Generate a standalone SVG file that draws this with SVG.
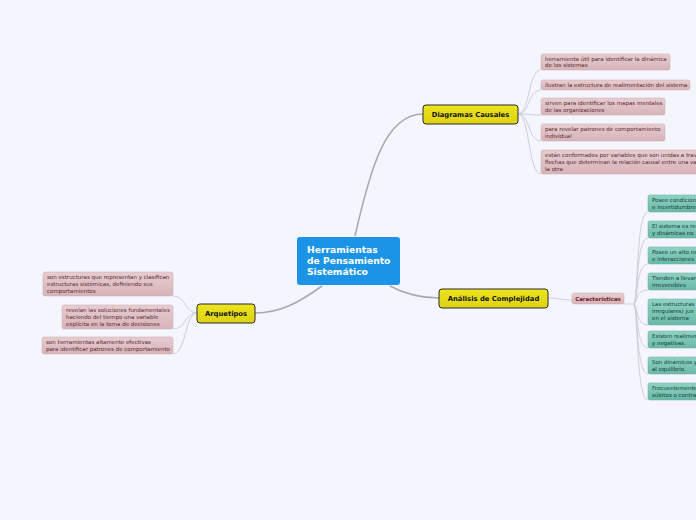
<svg xmlns="http://www.w3.org/2000/svg" width="696" height="520" viewBox="0 0 696 520">
<defs>
<linearGradient id="gy" x1="0" y1="0" x2="0" y2="1"><stop offset="0" stop-color="#ede51f"/><stop offset="1" stop-color="#ddd214"/></linearGradient>
<linearGradient id="gp" x1="0" y1="0" x2="0" y2="1"><stop offset="0" stop-color="#e6cdd1"/><stop offset="1" stop-color="#d7b3b9"/></linearGradient>
<linearGradient id="gt" x1="0" y1="0" x2="0" y2="1"><stop offset="0" stop-color="#8ed3c3"/><stop offset="1" stop-color="#6bb8a8"/></linearGradient>
<style>
.main{stroke:#a9a9b3;stroke-width:1.6;fill:none}
.sub{stroke:#cfcfd8;stroke-width:1;fill:none}
.y{fill:url(#gy);stroke:#2b2b2b;stroke-width:1}
.p{fill:url(#gp);stroke:#cfa9af;stroke-width:0.5}
.t{fill:url(#gt);stroke:#6aa99b;stroke-width:0.5}
.yl{font-family:"DejaVu Sans",Verdana,sans-serif;font-weight:bold;font-size:6.8px;fill:#111;text-anchor:middle}
.pl{font-family:"DejaVu Sans",Verdana,sans-serif;font-size:5.5px;fill:#5a2a30}
.tl{font-family:"DejaVu Sans",Verdana,sans-serif;font-size:5.5px;fill:#133d35}
.cl{font-family:"DejaVu Sans",Verdana,sans-serif;font-weight:bold;font-size:9.2px;fill:#fff}
.kl{font-family:"DejaVu Sans",Verdana,sans-serif;font-weight:bold;font-size:5.4px;fill:#6a1c28;text-anchor:middle}
</style>
</defs>
<rect width="696" height="520" fill="#f4f5fd"/>
<g id="connectors">
<path class="main" d="M355 236 C370 170 385 114 423 114"/>
<path class="main" d="M390 286 C405 294 420 298 439 298"/>
<path class="main" d="M322 286 C300 302 280 313 255 313"/>
<path class="sub" d="M548 298 C560 298 560 300 572 300"/>
<path class="sub" d="M518 114 C530 114 528 70 541 70"/>
<path class="sub" d="M518 114 C530 114 528 90 541 90"/>
<path class="sub" d="M518 114 C530 114 528 115 541 115"/>
<path class="sub" d="M518 114 C530 114 528 141 541 141"/>
<path class="sub" d="M518 114 C530 114 528 174 541 174"/>
<path class="sub" d="M624 304 L634 304"/>
<path class="sub" d="M634 304 C638 300 636 212 648 212"/>
<path class="sub" d="M634 304 C638 300 636 238 648 238"/>
<path class="sub" d="M634 304 C638 300 636 264 648 264"/>
<path class="sub" d="M634 304 C638 300 636 290 648 290"/>
<path class="sub" d="M634 304 C638 308 636 325 648 325"/>
<path class="sub" d="M634 304 C638 308 636 348 648 348"/>
<path class="sub" d="M634 304 C638 308 636 374 648 374"/>
<path class="sub" d="M634 304 C638 308 636 400 648 400"/>
<path class="sub" d="M197 313 C185 313 186 296 173 296"/>
<path class="sub" d="M197 313 C185 313 186 329 173 329"/>
<path class="sub" d="M197 313 C185 313 186 354 173 354"/>
</g>
<g id="center">
<rect x="297" y="237" width="103" height="48" rx="3" fill="#1b94e7"/>
<text class="cl" x="307" y="253">Herramientas</text>
<text class="cl" x="307" y="264">de Pensamiento</text>
<text class="cl" x="307" y="275">Sistemático</text>
</g>
<g id="diagramas">
<rect class="y" x="423" y="105" width="95" height="19" rx="3"/>
<text class="yl" x="470.5" y="117">Diagramas Causales</text>
</g>
<g id="analisis">
<rect class="y" x="439" y="289" width="109" height="19" rx="3"/>
<text class="yl" x="493.5" y="301">Análisis de Complejidad</text>
</g>
<g id="arquetipos">
<rect class="y" x="197" y="304" width="58" height="19" rx="3"/>
<text class="yl" x="226" y="316">Arquetipos</text>
</g>
<g id="caracteristicas">
<rect class="p" x="572" y="293" width="52" height="11" rx="2"/>
<text class="kl" x="598" y="300.5">Características</text>
</g>
<g id="dc1"><rect class="p" x="541" y="54" width="129" height="16" rx="2"/><text class="pl" x="545" y="61">herramienta útil para identificar la dinámica</text><text class="pl" x="545" y="67">de los sistemas</text></g>
<g id="dc2"><rect class="p" x="541" y="80" width="149" height="10" rx="2"/><text class="pl" x="545" y="87">ilustran la estructura de realimentación del sistema</text></g>
<g id="dc3"><rect class="p" x="541" y="98" width="124" height="17" rx="2"/><text class="pl" x="545" y="105">sirven para identificar los mapas mentales</text><text class="pl" x="545" y="112">de las organizaciones</text></g>
<g id="dc4"><rect class="p" x="541" y="124" width="124" height="17" rx="2"/><text class="pl" x="545" y="131">para revelar patrones de comportamiento</text><text class="pl" x="545" y="138">individual</text></g>
<g id="dc5"><rect class="p" x="541" y="150" width="160" height="24" rx="2"/><text class="pl" x="545" y="157">están conformados por variables que son unidas a trav</text><text class="pl" x="545" y="164">flechas que determinan la relación causal entre una va</text><text class="pl" x="545" y="171">la otra</text></g>
<g id="ca1"><rect class="t" x="648" y="195" width="55" height="17" rx="2"/><text class="tl" x="652" y="202">Posee condicion</text><text class="tl" x="652" y="209">e incertidumbre</text></g>
<g id="ca2"><rect class="t" x="648" y="221" width="55" height="17" rx="2"/><text class="tl" x="652" y="228">El sistema es re</text><text class="tl" x="652" y="235">y dinámicas no</text></g>
<g id="ca3"><rect class="t" x="648" y="247" width="55" height="17" rx="2"/><text class="tl" x="652" y="254">Posee un alto ne</text><text class="tl" x="652" y="261">e interacciones</text></g>
<g id="ca4"><rect class="t" x="648" y="273" width="55" height="17" rx="2"/><text class="tl" x="652" y="280">Tienden a llevar</text><text class="tl" x="652" y="287">irreversibles</text></g>
<g id="ca5"><rect class="t" x="648" y="299" width="55" height="26" rx="2"/><text class="tl" x="652" y="306">Las estructuras</text><text class="tl" x="652" y="313">irregulares) jue</text><text class="tl" x="652" y="320">en el sistema</text></g>
<g id="ca6"><rect class="t" x="648" y="331" width="55" height="17" rx="2"/><text class="tl" x="652" y="338">Existen realimen</text><text class="tl" x="652" y="345">y negativas.</text></g>
<g id="ca7"><rect class="t" x="648" y="357" width="55" height="17" rx="2"/><text class="tl" x="652" y="364">Son dinámicos y</text><text class="tl" x="652" y="371">al equilibrio.</text></g>
<g id="ca8"><rect class="t" x="648" y="383" width="55" height="17" rx="2"/><text class="tl" x="652" y="390">Frecuentemente</text><text class="tl" x="652" y="397">súbitos o contra</text></g>
<g id="ar1"><rect class="p" x="43" y="272" width="130" height="24" rx="2"/><text class="pl" x="47" y="279">son estructuras que representan y clasifican</text><text class="pl" x="47" y="286">estructuras sistémicas, definiendo sus</text><text class="pl" x="47" y="293">comportamientos</text></g>
<g id="ar2"><rect class="p" x="62" y="305" width="111" height="24" rx="2"/><text class="pl" x="66" y="312">revelan las soluciones fundamentales</text><text class="pl" x="66" y="319">haciendo del tiempo una variable</text><text class="pl" x="66" y="326">explícita en la toma de decisiones</text></g>
<g id="ar3"><rect class="p" x="42" y="337" width="131" height="17" rx="2"/><text class="pl" x="46" y="344">son herramientas altamente efectivas</text><text class="pl" x="46" y="351">para identificar patrones de comportamiento</text></g>
</svg>
